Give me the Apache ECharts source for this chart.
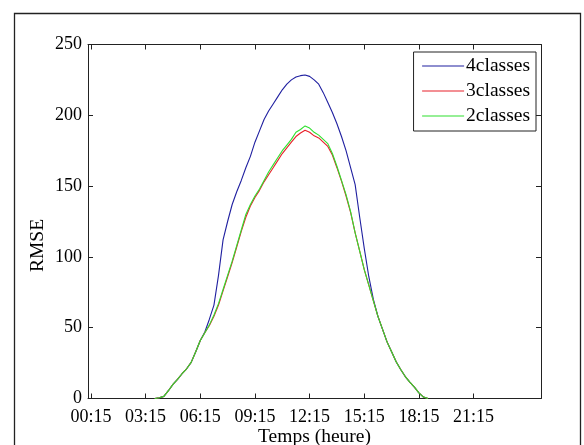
<!DOCTYPE html>
<html>
<head>
<meta charset="utf-8">
<script src="https://cdn.jsdelivr.net/npm/echarts@6/dist/echarts.min.js"></script>
<style>
html,body{margin:0;padding:0;background:#fff;}
#chart{width:584px;height:445px;}
</style>
</head>
<body>
<div id="chart"></div>
<script>
// x positions are 15-minute step indices (1 = 00:15)
const tickPositions = [1, 13, 25, 37, 49, 61, 73, 85];
const tickLabels = ['00:15', '03:15', '06:15', '09:15', '12:15', '15:15', '18:15', '21:15'];
const startIndex = 15;
const classes4 = [0, 0.5, 1.5, 5.5, 10, 13.5, 17.5, 21, 25.5, 33, 41, 47, 56, 66, 87, 112, 125, 137, 146, 154,
  163, 171, 181, 189, 197, 203, 208, 213, 218, 222, 225, 227, 228, 228.5, 227.5, 225, 222, 216, 209, 202,
  194, 185, 175, 163, 151, 128, 106, 86, 70, 58, 49, 40, 33, 26, 20.5, 15.5, 11.5, 8, 4, 1, 0];
const classes3 = [0, 0.5, 1.5, 5.5, 10, 13.5, 17.5, 21, 25.5, 33, 41, 46.5, 51.5, 58, 66, 76, 86, 96, 107, 118,
  128, 136, 142, 147, 153, 158, 163, 168, 173, 177, 181, 185, 187.5, 189.5, 188, 185.5, 184, 181, 178, 172,
  163, 153.5, 143, 131.5, 117, 104, 91, 80, 69, 58, 49, 40, 33, 26, 20.5, 15.5, 11.5, 8, 4, 1, 0];
const classes2 = [0, 0.5, 1.5, 5.5, 10, 13.5, 17.5, 21, 25.5, 33, 41, 46.5, 52, 59, 67, 77, 87, 97, 108, 119,
  130, 137, 143, 148, 154, 160, 165, 170, 175, 179, 183, 188, 190, 192.5, 191, 188, 186, 183, 180, 173,
  164, 154, 144, 132, 117, 104, 91, 80, 69, 58, 49, 40, 33, 26, 20.5, 15.5, 11.5, 8, 4, 1, 0];
const seriesNames = ['4classes', '3classes', '2classes'];
const seriesColors = ['#1f1fa0', '#e8202a', '#2ee02e'];

function toPairs(arr) { return arr.map((v, k) => [startIndex + k, v]); }

const font = 'Liberation Serif, Times New Roman, serif';
const chart = echarts.init(document.getElementById('chart'), null, {renderer: 'canvas'});
const xCommon = {
  type: 'value', min: 0.35, max: 99.8,
  axisLine: {show: true, onZero: false, lineStyle: {color: '#222', width: 1}},
  splitLine: {show: false},
};
chart.setOption({
  animation: false,
  backgroundColor: '#fff',
  textStyle: {fontFamily: font},
  graphic: [{
    type: 'rect', left: 12, top: 11, shape: {x: 0, y: 0, width: 566, height: 460},
    style: {fill: 'none', stroke: '#222', lineWidth: 1.3}, silent: true, z: -1
  }],
  grid: {left: 88, right: 43, top: 44.5, bottom: 46.5, outerBoundsMode: 'none', containLabel: false},
  legend: {
    data: seriesNames,
    right: 584 - 536, top: 52,
    orient: 'vertical',
    backgroundColor: '#fff',
    borderColor: '#222', borderWidth: 1, borderRadius: 0,
    padding: [4, 6, 5, 8],
    itemWidth: 42, itemHeight: 20, itemGap: 5,
    itemStyle: {opacity: 0},
    lineStyle: {width: 1.1},
    textStyle: {fontFamily: font, fontSize: 19.5, color: '#000', lineHeight: 20, padding: [0, 0, 0, -3]},
    selectedMode: false
  },
  xAxis: [
    Object.assign({}, xCommon, {
      position: 'bottom',
      name: 'Temps (heure)', nameLocation: 'middle', nameGap: 28, nameMoveOverlap: false,
      nameTextStyle: {fontFamily: font, fontSize: 19.5, color: '#000'},
      axisTick: {show: true, inside: true, length: 5, customValues: tickPositions, lineStyle: {color: '#222'}},
      axisLabel: {show: true, customValues: tickPositions, margin: 10, color: '#000', fontFamily: font, fontSize: 18,
        formatter: v => tickLabels[tickPositions.indexOf(v)] || ''}
    }),
    Object.assign({}, xCommon, {
      position: 'top',
      axisTick: {show: true, inside: true, length: 5, customValues: tickPositions, lineStyle: {color: '#222'}},
      axisLabel: {show: false}
    })
  ],
  yAxis: [
    {
      type: 'value', min: 0, max: 250, interval: 50, position: 'left',
      name: 'RMSE', nameLocation: 'middle', nameGap: 40, nameRotate: 90, nameMoveOverlap: false,
      nameTextStyle: {fontFamily: font, fontSize: 19.5, color: '#000', padding: [0, 48, 0, 0]},
      axisLine: {show: true, lineStyle: {color: '#222', width: 1}},
      axisTick: {show: true, inside: true, length: 5, lineStyle: {color: '#222'}},
      axisLabel: {color: '#000', fontFamily: font, fontSize: 18, margin: 6},
      splitLine: {show: false}
    },
    {
      type: 'value', min: 0, max: 250, interval: 50, position: 'right',
      axisLine: {show: true, lineStyle: {color: '#222', width: 1}},
      axisTick: {show: true, inside: true, length: 5, lineStyle: {color: '#222'}},
      axisLabel: {show: false},
      splitLine: {show: false}
    }
  ],
  series: [
    {name: seriesNames[0], type: 'line', data: toPairs(classes4), symbol: 'none', color: seriesColors[0], lineStyle: {width: 1.1}},
    {name: seriesNames[1], type: 'line', data: toPairs(classes3), symbol: 'none', color: seriesColors[1], lineStyle: {width: 1.1}},
    {name: seriesNames[2], type: 'line', data: toPairs(classes2), symbol: 'none', color: seriesColors[2], lineStyle: {width: 1.1}}
  ]
});
</script>
</body>
</html>
